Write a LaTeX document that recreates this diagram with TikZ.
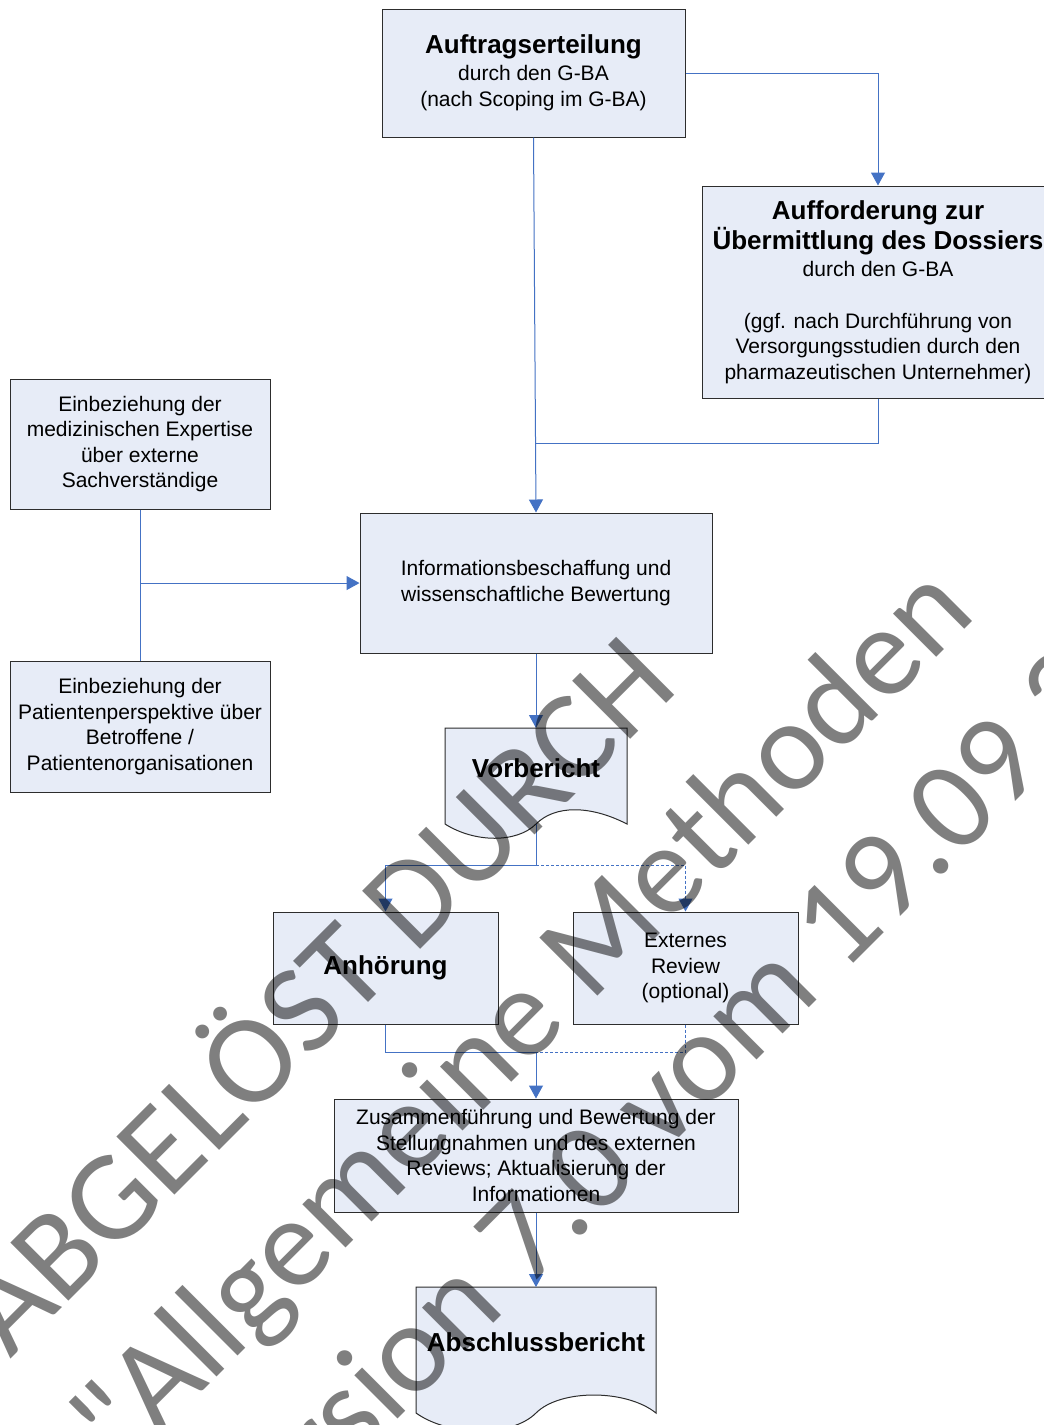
\documentclass[tikz,border=0pt]{standalone}
\usepackage{fontspec}
\setmainfont{Liberation Sans}
\newfontfamily\wmfont{Carlito}
\usetikzlibrary{arrows.meta,calc}
\definecolor{boxfill}{RGB}{231,236,247}
\definecolor{conn}{RGB}{68,114,196}
\definecolor{boxline}{RGB}{45,45,45}
\newcommand\bodyfnt{\fontsize{21}{25.5}\selectfont}
\newcommand\titlefnt{\fontsize{26}{31}\selectfont\bfseries}
\begin{document}
\begin{tikzpicture}[x=1pt,y=-1pt,
  box/.style={draw=boxline, line width=1pt, fill=boxfill, inner sep=0pt, align=center, font=\bodyfnt},
  doctext/.style={inner sep=0pt, align=center, font=\titlefnt},
  docline/.style={draw=boxline, line width=1pt, fill=boxfill},
  ln/.style={draw=conn, line width=1pt},
  arr/.style={ln, -{Triangle[width=14pt,length=13pt]}},
  dsh/.style={dash pattern=on 3pt off 2pt},
  wm/.style={rotate=45, inner sep=0pt, anchor=base west, text=black, text opacity=0.5,
    font=\wmfont\fontsize{128}{158}\selectfont}]
\fill[white] (0,0) rectangle (1044,1425);
\useasboundingbox (0,0) rectangle (1044,1425);

% boxes
\node[box, minimum width=303pt, minimum height=128pt] (n1) at (533.5,73)
  {\rule{0pt}{0pt}{\titlefnt Auftragserteilung}\\[1.5pt]durch den G-BA\\(nach Scoping im G-BA)};
\node[box, minimum width=352pt, minimum height=212pt] (n2) at (878,292)
  {{\titlefnt Aufforderung zur}\\[1.5pt]{\titlefnt Übermittlung des Dossiers}\\[1.5pt]durch den G-BA\\[26.5pt](ggf. nach Durchführung von\\Versorgungsstudien durch den\\pharmazeutischen Unternehmer)};
\node[box, minimum width=352pt, minimum height=140pt] (n3) at (536,583)
  {Informationsbeschaffung und\\wissenschaftliche Bewertung};
\node[box, minimum width=260pt, minimum height=130pt] (l1) at (140,444)
  {Einbeziehung der\\medizinischen Expertise\\über externe\\Sachverständige};
\node[box, minimum width=260pt, minimum height=131pt] (l2) at (140,726.5)
  {Einbeziehung der\\Patientenperspektive über\\Betroffene /\\Patientenorganisationen};
\node[box, minimum width=225pt, minimum height=112pt] (anh) at (385.5,968)
  {{\titlefnt Anhörung}};
\node[box, minimum width=225pt, minimum height=112pt] (ext) at (685.5,968)
  {Externes\\Review\\(optional)};
\node[box, minimum width=404pt, minimum height=113pt] (zus) at (536,1155.5)
  {Zusammenführung und Bewertung der\\Stellungnahmen und des externen\\Reviews; Aktualisierung der\\Informationen};

% document shapes
\draw[docline] (445,728) -- (627,728) -- (627,824)
  .. controls (590,805) and (555,805) .. (536,824)
  .. controls (517,843) and (475,843) .. (445,824) -- cycle;
\node[doctext, minimum width=182pt, minimum height=80pt, anchor=north] (vor) at (536,728) {Vorbericht};
\coordinate (vorb) at (536,824);

\draw[docline] (416,1287) -- (656,1287) -- (656,1413)
  .. controls (626,1389) and (560,1389) .. (536,1413)
  .. controls (512,1437) and (450,1437) .. (416,1413) -- cycle;
\node[doctext, minimum width=240pt, minimum height=110pt, anchor=north] (abs) at (536,1287) {Abschlussbericht};

% connectors
\draw[arr] (n1.east) -| (n2.north);
\draw[arr] (n1.south) -- (n3.north);
\coordinate (j1) at ($(n1.south)!0.8165!(n3.north)$);
\draw[ln] (n2.south) |- (j1);

\draw[ln] (l1.south) -- (l2.north);
\coordinate (j2) at ($(l1.south)!0.487!(l2.north)$);
\draw[arr] (j2) -- (j2 -| n3.west);

\draw[arr] (n3.south) -- (vor.north);
\coordinate (j3) at (536,865);
\draw[ln] (vorb) -- (j3);
\draw[arr] (j3) -| (anh.north);
\draw[arr, dsh] (j3) -| (ext.north);

\coordinate (j4) at (536,1052);
\draw[ln] (anh.south) |- (j4);
\draw[ln, dsh] (ext.south) |- (j4);
\draw[arr] (j4) -- (zus.north);
\draw[arr] (zus.south) -- (abs.north);

% watermark
\node[wm] (wm1) at (10,1360) {ABGELÖST DURCH};
\node[wm] (wm2) at (122,1472) {"Allgemeine Methoden};
\node[wm] (wm3) at (233.5,1583.5) {Version 7.0 vom 19.09.2023};
\end{tikzpicture}
\end{document}
